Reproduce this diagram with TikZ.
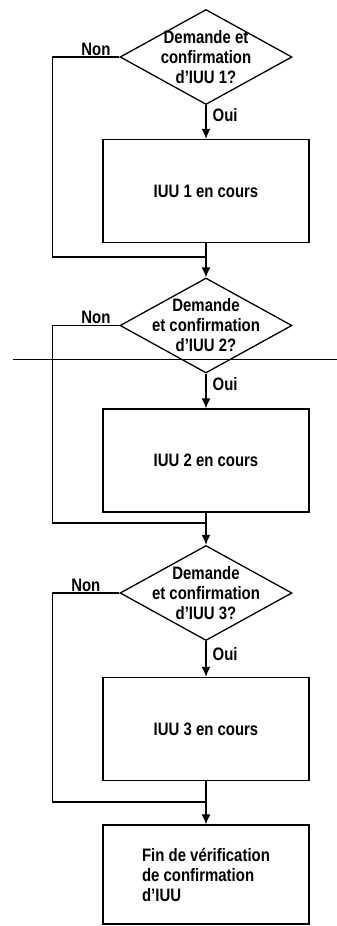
\documentclass[tikz,border=0pt]{standalone}
\usepackage{fontspec}
\setmainfont{Liberation Sans}[FakeStretch=0.83]
\usetikzlibrary{shapes.geometric,arrows.meta}

\begin{document}
\begin{tikzpicture}[x=1pt, y=-1pt, line width=1.3pt, >={Latex[length=10pt,width=9pt]},
font=\fontsize{18}{20}\selectfont\bfseries,
test/.style = {diamond, draw, minimum width=172pt, minimum height=95pt, inner sep=0pt},
task/.style = {rectangle, draw, minimum width=206pt, minimum height=103pt},
flow/.style = {->},
ask/.style = {align=center, inner sep=0pt},
yes/.style = {right, inner sep=6pt},
no/.style = {above, inner sep=1pt}]
\useasboundingbox (0,0) rectangle (337,926);
\node[test] (d1) at (206,57) {};
\node[ask] (d1t) at (d1) {Demande et\\confirmation\\d’IUU 1?};
\node[task] (b1) at (206,191) {IUU 1 en cours};
\coordinate (m1) at (206,257);
\node[test] (d2) at (206,325.5) {};
\node[ask] (d2t) at (d2) {Demande\\et confirmation\\d’IUU 2?};
\node[task] (b2) at (206,460.5) {IUU 2 en cours};
\coordinate (m2) at (206,523);
\node[test] (d3) at (206,593) {};
\node[ask] (d3t) at (d3) {Demande\\et confirmation\\d’IUU 3?};
\node[task] (b3) at (206,729) {IUU 3 en cours};
\coordinate (m3) at (206,802);
\node[task, minimum height=99pt, align=left] (fin) at (206,874.5)
  {Fin de vérification\\de confirmation\\d’IUU};
% oui
\draw[flow] (d1) -- node[yes, pos=0.3] {Oui} (b1);
\draw[flow] (d2) -- node[yes, pos=0.3] {Oui} (b2);
\draw[flow] (d3) -- node[yes, pos=0.35] {Oui} (b3);
% non
\draw (d1.west) -- node[no, pos=0.35] {Non} ++(-67,0) |- (m1);
\draw (d2.west) -- node[no, pos=0.35] {Non} ++(-67,0) |- (m2);
\draw (d3.west) -- node[no, pos=0.5] {Non} ++(-67,0) |- (m3);
% suite
\draw (b1) -- (m1);
\draw[flow] (m1) -- (d2);
\draw (b2) -- (m2);
\draw[flow] (m2) -- (d3);
\draw (b3) -- (m3);
\draw[flow] (m3) -- (fin);
\draw[line width=0.6pt] (13,359) -- (337,359);
\end{tikzpicture}
\end{document}
